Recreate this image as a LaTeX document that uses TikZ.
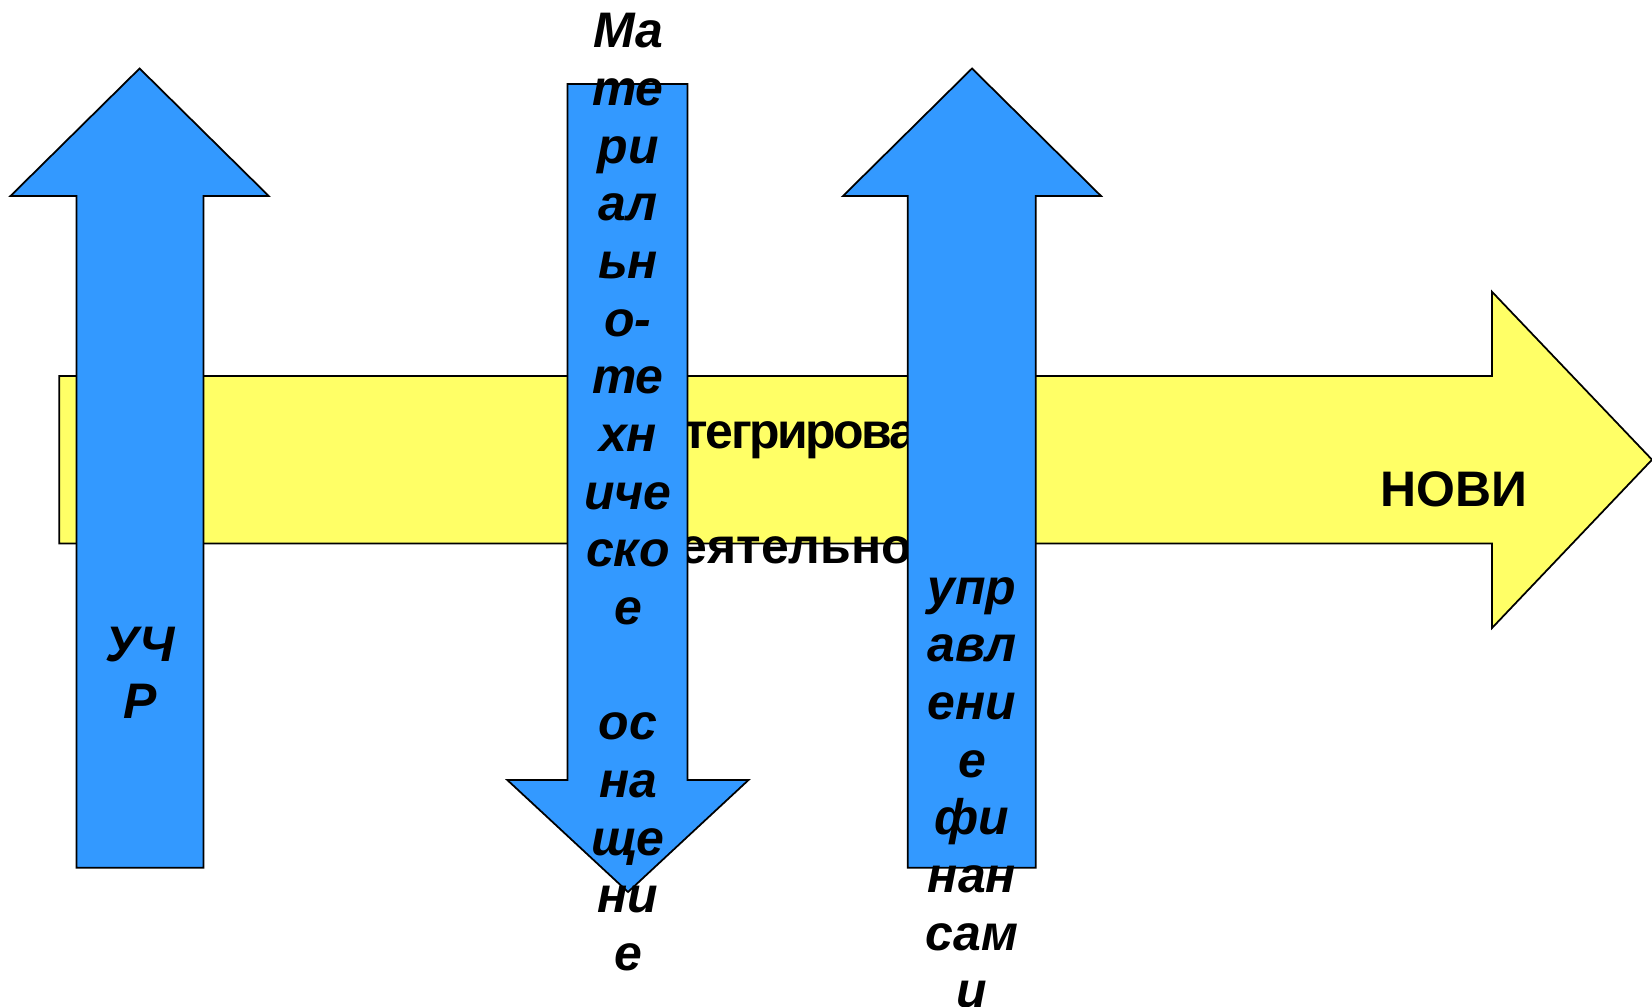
\documentclass[tikz,border=0pt]{standalone}
\usepackage{fontspec}
\setmainfont{Liberation Sans}
\usepackage{xcolor}
\usepackage{tikz}
\definecolor{arrowblue}{HTML}{3399FF}
\definecolor{arrowyellow}{HTML}{FFFF66}

\begin{document}
\begin{tikzpicture}[x=0.01cm, y=-0.01cm,
blockarrow/.style={draw=black, line width=0.5pt, line join=miter},
bluearrow/.style={blockarrow, fill=arrowblue},
yellowarrow/.style={blockarrow, fill=arrowyellow},
arrowtext/.style={inner sep=0pt, align=center, font=\fontsize{14.2}{16.4}\selectfont\bfseries\itshape},
bartext/.style={inner sep=0pt, font=\fontsize{14.2}{16.4}\selectfont\bfseries},
bartexttight/.style={bartext, font=\fontsize{14.2}{16.4}\selectfont\bfseries\addfontfeatures{LetterSpace=-5}}]
\useasboundingbox (0,0) rectangle (1652,1007);

\draw[yellowarrow] (59.3,376) -- (1492,376) -- (1492,291.8) -- (1652,459.7) -- (1492,628) -- (1492,543.5) -- (59.3,543.5) -- cycle;
\node[bartexttight, anchor=base west] (integr) at (683,449) {тегрирова};
\node[bartext, anchor=base west] (deyat) at (679,564) {еятельнос};
\node[bartext, anchor=base] (novi) at (1453.5,506.7) {НОВИ};

\draw[bluearrow] (76.5,867.7) -- (76.5,196) -- (10.5,196) -- (139.6,68.5) -- (268.7,196) -- (203.5,196) -- (203.5,867.7) -- cycle;
\draw[bluearrow] (567.6,84) -- (687.6,84) -- (687.6,780) -- (748.5,780) -- (628,892) -- (507.3,780) -- (567.6,780) -- cycle;
\draw[bluearrow] (907.8,867.7) -- (907.8,196) -- (843,196) -- (972,68.5) -- (1101,196) -- (1035.8,196) -- (1035.8,867.7) -- cycle;

\node[arrowtext, anchor=north] (uchr) at (140,626) {УЧ\\Р};
\node[arrowtext, anchor=north] (osnashenie) at (628,12.7) {Ма\\те\\ри\\ал\\ьн\\о-\\те\\хн\\иче\\ско\\е\\~\\ос\\на\\ще\\ни\\е};
\node[arrowtext, anchor=north] (upravlenie) at (972,576.5) {упр\\авл\\ени\\е\\фи\\нан\\сам\\и};
\end{tikzpicture}
\end{document}
